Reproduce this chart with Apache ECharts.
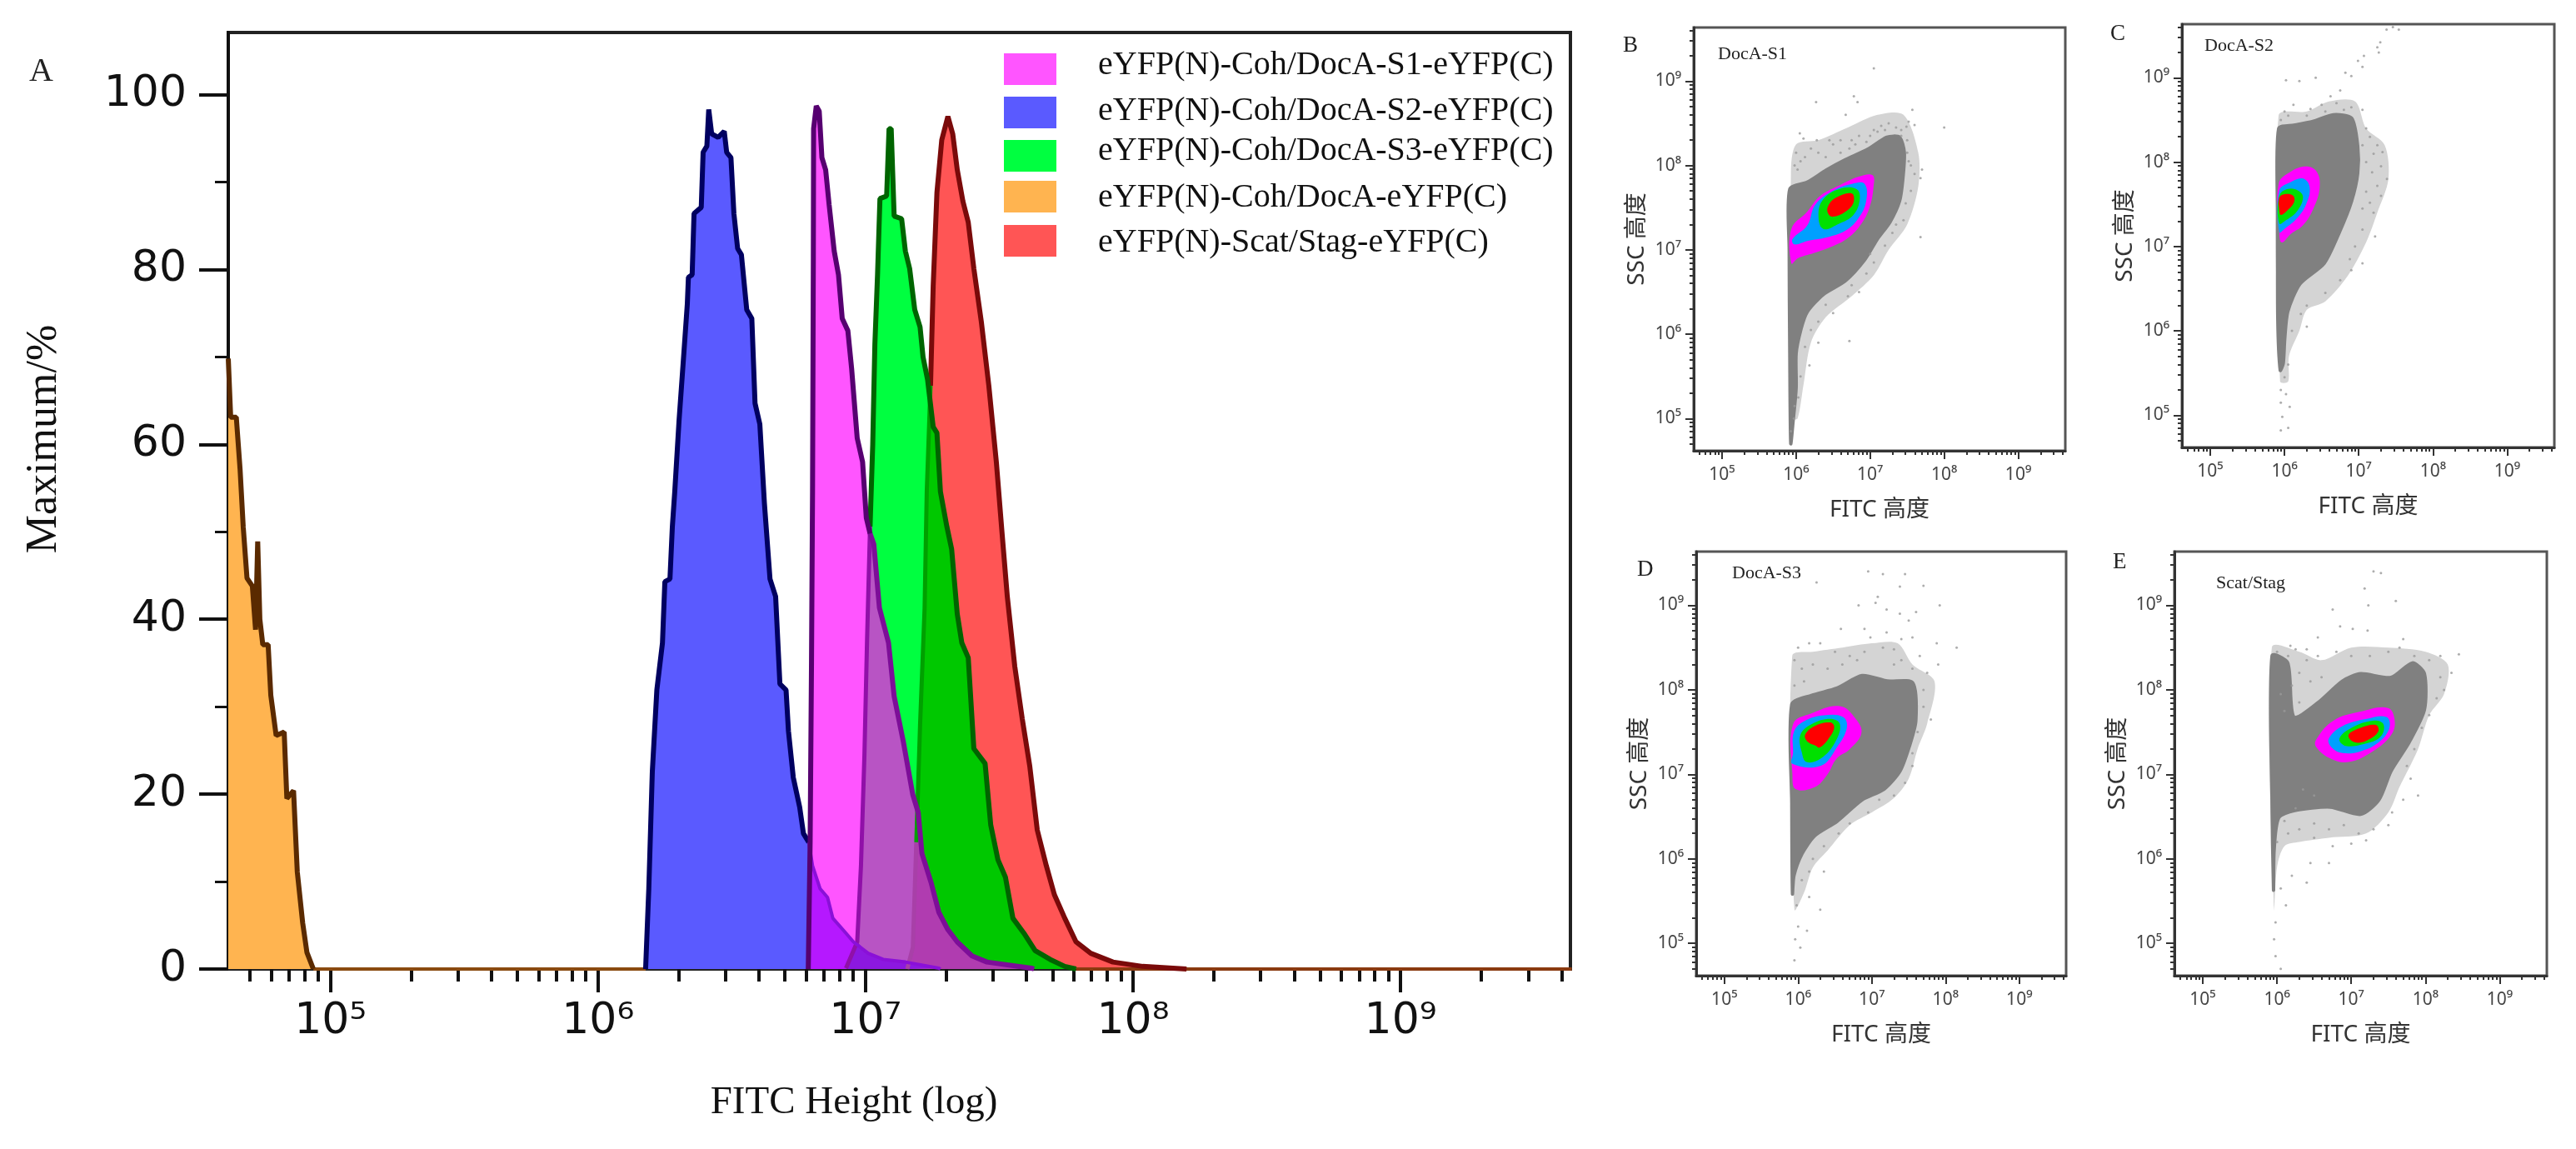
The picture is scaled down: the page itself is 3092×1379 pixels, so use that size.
<!DOCTYPE html>
<html>
<head>
<meta charset="utf-8">
<style>html,body{margin:0;padding:0;background:#fff}#main{width:3092px;height:1379px}</style>
<script src="https://cdn.jsdelivr.net/npm/echarts@6/dist/echarts.min.js"></script>
</head>
<body>
<div id="main"></div>
<script>
// x values of all curves and outlines are kept as log10 of the fluorescence, converted when the series are built
var legendNames = ['eYFP(N)-Coh/DocA-S1-eYFP(C)','eYFP(N)-Coh/DocA-S2-eYFP(C)','eYFP(N)-Coh/DocA-S3-eYFP(C)','eYFP(N)-Coh/DocA-eYFP(C)','eYFP(N)-Scat/Stag-eYFP(C)'];
var decadeValues = [1e5,1e6,1e7,1e8,1e9];
var decadeLabels = ['10⁵','10⁶','10⁷','10⁸','10⁹'];
var minorFactors = [2,3,4,5,6,7,8,9];
var percentMajor = [0,20,40,60,80,100];
var percentMinor = [10,30,50,70,90];

// panel A histograms [log10 FITC, % of max]
var curveS1 = [[6.786,0],[6.793,14.5],[6.798,34.6],[6.802,54.6],[6.805,81.4],[6.806,96.1],[6.816,98.7],[6.827,98.1],[6.837,92.8],[6.851,91.4],[6.864,87.4],[6.883,82.1],[6.899,79.4],[6.913,74.4],[6.934,73],[6.948,68.7],[6.969,60.7],[6.989,58],[7.003,51.6],[7.017,49.8],[7.031,48.6],[7.052,41.3],[7.086,37.3],[7.107,31.2],[7.142,25.9],[7.177,19.9],[7.197,17.9],[7.211,13.2],[7.246,9.8],[7.274,6.5],[7.308,4.5],[7.343,3.1],[7.398,1.5],[7.454,0.8],[7.62,0.1],[7.63,0]];
var curveS2 = [[6.178,0],[6.19,9.2],[6.203,22.5],[6.22,31.9],[6.241,37.3],[6.25,44.3],[6.269,44.6],[6.278,50.6],[6.287,54.6],[6.303,62.7],[6.32,70],[6.334,76.1],[6.338,79.1],[6.352,79.4],[6.359,86.4],[6.386,87.1],[6.393,93.4],[6.407,94.1],[6.414,98.3],[6.425,95.5],[6.449,95.1],[6.472,95.8],[6.481,93.4],[6.497,92.8],[6.508,86.4],[6.522,82.4],[6.536,81.7],[6.556,75.4],[6.575,74.4],[6.587,64.7],[6.605,62.3],[6.622,53.3],[6.643,44.6],[6.664,42.6],[6.68,32.6],[6.703,31.9],[6.712,27.2],[6.73,21.9],[6.754,18.5],[6.768,15.5],[6.788,14.5],[6.802,11.8],[6.83,9.2],[6.858,8.2],[6.878,5.8],[6.927,4.1],[6.955,3.1],[7.01,1.8],[7.066,1.1],[7.149,0.8],[7.274,0.1],[7.28,0]];
var curveS3 = [[6.927,0.1],[6.969,3.1],[6.983,11.8],[6.996,24.5],[7.006,37.9],[7.017,50.6],[7.027,60],[7.035,71.4],[7.045,79.4],[7.054,88.1],[7.079,88.4],[7.088,96.1],[7.096,96.1],[7.107,86.1],[7.135,85.8],[7.149,82.1],[7.165,80.1],[7.184,75.4],[7.204,73.4],[7.215,70],[7.232,67.4],[7.253,62],[7.267,61.3],[7.28,54.6],[7.304,50.6],[7.322,48],[7.343,40.6],[7.36,37.3],[7.384,35.6],[7.405,25.2],[7.447,23.5],[7.468,16.5],[7.495,12.5],[7.523,10.5],[7.551,5.8],[7.592,4.1],[7.634,2.1],[7.69,1.1],[7.745,0.3],[7.787,0]];
var curveControl = [[4.618,69.8],[4.627,63.1],[4.648,63.1],[4.662,57.2],[4.674,50.5],[4.688,44.7],[4.708,43.8],[4.72,38.8],[4.728,48.9],[4.736,40],[4.747,37.1],[4.767,37.1],[4.777,31.3],[4.797,26.7],[4.827,27.1],[4.837,19.5],[4.862,20.4],[4.876,11.1],[4.896,5.3],[4.912,1.9],[4.936,0]];
var curveScat = [[7.156,0],[7.177,2.5],[7.19,14.5],[7.204,27.9],[7.221,41.3],[7.229,54.6],[7.243,66.7],[7.253,78.1],[7.267,88.8],[7.285,94.8],[7.308,97.5],[7.326,95.5],[7.343,91.4],[7.364,87.8],[7.384,85.4],[7.405,80.1],[7.433,74],[7.461,66.7],[7.489,58],[7.51,50],[7.53,42.6],[7.558,34.6],[7.586,28.6],[7.614,23.2],[7.642,15.9],[7.676,11.8],[7.706,8.5],[7.745,5.8],[7.787,3.1],[7.842,1.8],[7.925,0.8],[8.036,0.3],[8.2,0]];
// overlaps between the histograms, they have their own tint in the figure
var overlapS1S2 = [[6.786,0],[6.793,14.5],[6.802,11.8],[6.83,9.2],[6.858,8.2],[6.878,5.8],[6.927,4.1],[6.955,3.1],[7.01,1.8],[7.066,1.1],[7.149,0.8],[7.274,0.1],[7.28,0]];
var overlapS1S3 = [[6.927,0],[6.969,3.1],[6.983,11.8],[6.996,24.5],[7.006,37.9],[7.017,49.8],[7.031,48.6],[7.052,41.3],[7.086,37.3],[7.107,31.2],[7.142,25.9],[7.177,19.9],[7.197,17.9],[7.211,13.2],[7.246,9.8],[7.274,6.5],[7.308,4.5],[7.343,3.1],[7.398,1.5],[7.454,0.8],[7.62,0.1],[7.63,0]];
var overlapS3Scat = [[7.156,0],[7.177,2.5],[7.19,14.5],[7.204,27.9],[7.221,41.3],[7.229,54.6],[7.243,64.5],[7.253,62],[7.267,61.3],[7.28,54.6],[7.304,50.6],[7.322,48],[7.343,40.6],[7.36,37.3],[7.384,35.6],[7.405,25.2],[7.447,23.5],[7.468,16.5],[7.495,12.5],[7.523,10.5],[7.551,5.8],[7.592,4.1],[7.634,2.1],[7.69,1.1],[7.745,0.3],[7.787,0]];
var overlapTriple = [[7.156,0],[7.177,2.5],[7.19,14.5],[7.195,18.2],[7.197,17.9],[7.211,13.2],[7.246,9.8],[7.274,6.5],[7.308,4.5],[7.343,3.1],[7.398,1.5],[7.454,0.8],[7.62,0.1],[7.63,0]];
var overlapQuad = [[6.927,0],[6.969,3.1],[7.01,1.8],[7.066,1.1],[7.149,0.8],[7.274,0.1],[7.28,0]];
var baselineLow = [[4.936,0],[6.178,0]];
var baselineHigh = [[7.787,0],[9.64,0]];

// panels B-E density levels, outlines read as [log10 FITC, log10 SSC]
var fringeB = [[5.93,7.9],[6.0,8.25],[6.3,8.3],[6.7,8.45],[7.1,8.6],[7.45,8.6],[7.65,8.15],[7.65,7.75],[7.5,7.3],[7.25,7.0],[7.05,6.7],[6.75,6.45],[6.4,6.2],[6.2,5.9],[6.1,5.4],[6.02,5.0],[5.95,5.0]];
var grayB = [[5.915,7.72],[6.151,7.802],[6.409,7.946],[6.667,8.069],[6.968,8.192],[7.226,8.335],[7.397,8.335],[7.462,8.151],[7.44,7.823],[7.397,7.576],[7.269,7.33],[7.097,7.125],[6.925,6.879],[6.667,6.633],[6.366,6.469],[6.151,6.264],[6.066,6.058],[6.001,5.771],[6.001,5.361],[5.958,4.951],[5.928,4.705],[5.915,5.771],[5.907,7.002]];
var magentaB = [[5.937,7.248],[6.151,7.453],[6.323,7.638],[6.581,7.761],[6.839,7.864],[7.032,7.884],[7.045,7.741],[6.989,7.494],[6.882,7.31],[6.71,7.146],[6.495,7.043],[6.237,6.961],[6.023,6.9],[5.937,6.838]];
var blueB = [[5.95,7.125],[6.151,7.289],[6.259,7.535],[6.495,7.7],[6.753,7.782],[6.925,7.782],[6.946,7.576],[6.839,7.371],[6.667,7.228],[6.409,7.146],[6.151,7.105],[5.98,7.064]];
var greenB = [[6.302,7.412],[6.366,7.597],[6.581,7.72],[6.817,7.72],[6.86,7.597],[6.774,7.412],[6.581,7.31],[6.366,7.248]];
var redB = [[6.431,7.515],[6.538,7.617],[6.753,7.667],[6.774,7.556],[6.667,7.453],[6.495,7.392],[6.431,7.433]];
var fringeC = [[5.92,8.55],[6.3,8.6],[6.6,8.72],[6.95,8.72],[7.1,8.4],[7.35,8.2],[7.4,7.8],[7.25,7.4],[7.1,7.05],[6.85,6.65],[6.55,6.35],[6.3,6.25],[6.2,6.0],[6.06,5.7],[6.05,5.4],[5.94,5.4]];
var grayC = [[5.921,8.398],[6.126,8.439],[6.372,8.48],[6.658,8.562],[6.904,8.521],[6.986,8.193],[6.986,7.866],[6.904,7.538],[6.74,7.17],[6.535,6.801],[6.208,6.556],[6.044,6.228],[6.003,5.901],[5.983,5.614],[5.942,5.532],[5.909,6.146],[5.909,7.375]];
var magentaC = [[5.921,7.743],[6.085,7.886],[6.29,7.948],[6.433,7.886],[6.474,7.702],[6.392,7.456],[6.249,7.252],[6.085,7.149],[5.962,7.047],[5.929,7.17]];
var blueC = [[5.929,7.661],[6.085,7.764],[6.249,7.805],[6.339,7.702],[6.29,7.497],[6.167,7.334],[6.003,7.211],[5.929,7.17]];
var greenC = [[5.929,7.6],[6.044,7.682],[6.187,7.661],[6.249,7.579],[6.167,7.416],[6.024,7.313],[5.929,7.272]];
var redC = [[5.929,7.579],[6.003,7.62],[6.118,7.6],[6.126,7.518],[6.024,7.416],[5.95,7.375],[5.929,7.436]];
var fringeD = [[5.92,8.4],[6.2,8.45],[6.6,8.5],[7.0,8.55],[7.35,8.55],[7.55,8.3],[7.85,8.1],[7.75,7.6],[7.62,7.3],[7.5,6.95],[7.3,6.72],[7.0,6.55],[6.7,6.4],[6.4,6.1],[6.2,5.9],[6.08,5.6],[5.95,5.4]];
var grayD = [[5.914,7.827],[6.18,7.934],[6.524,8.019],[6.867,8.168],[7.21,8.104],[7.554,8.083],[7.597,7.635],[7.511,7.337],[7.382,7.038],[7.167,6.825],[6.867,6.697],[6.524,6.441],[6.223,6.271],[6.052,6.058],[5.944,5.802],[5.923,5.588],[5.914,6.655]];
var magentaD = [[5.931,7.593],[6.18,7.721],[6.567,7.806],[6.781,7.657],[6.858,7.486],[6.695,7.294],[6.524,7.188],[6.395,6.996],[6.223,6.847],[5.966,6.825],[5.923,6.996]];
var blueD = [[5.944,7.507],[6.094,7.635],[6.352,7.699],[6.609,7.678],[6.661,7.55],[6.524,7.316],[6.309,7.102],[5.923,7.124],[5.931,7.252]];
var greenD = [[6.03,7.465],[6.18,7.593],[6.438,7.657],[6.567,7.593],[6.502,7.38],[6.309,7.188],[6.116,7.145],[6.052,7.252]];
var redD = [[6.094,7.465],[6.223,7.571],[6.438,7.614],[6.489,7.55],[6.395,7.401],[6.288,7.316],[6.245,7.337],[6.137,7.38]];
var fringeE = [[5.93,8.5],[6.3,8.45],[6.6,8.35],[7.0,8.5],[7.5,8.5],[8.0,8.45],[8.3,8.3],[8.25,7.95],[8.05,7.7],[7.9,7.3],[7.65,6.85],[7.5,6.55],[7.2,6.3],[6.7,6.25],[6.3,6.2],[6.1,6.15],[6.0,5.9],[5.96,5.4]];
var grayE = [[5.933,8.403],[6.145,8.318],[6.227,7.678],[6.554,7.849],[6.881,8.104],[7.127,8.19],[7.536,8.147],[7.822,8.318],[7.986,8.19],[7.986,7.763],[7.781,7.38],[7.536,7.038],[7.372,6.697],[7.127,6.527],[6.718,6.612],[6.227,6.569],[6.022,6.484],[5.961,6.1],[5.953,5.631],[5.933,6.655]];
var magentaE = [[6.521,7.401],[6.759,7.635],[7.127,7.742],[7.495,7.785],[7.585,7.635],[7.536,7.465],[7.29,7.273],[6.963,7.145],[6.718,7.188],[6.534,7.316]];
var blueE = [[6.697,7.422],[6.881,7.571],[7.209,7.657],[7.474,7.678],[7.515,7.55],[7.372,7.38],[7.127,7.273],[6.881,7.252],[6.738,7.316]];
var greenE = [[6.84,7.422],[7.004,7.55],[7.29,7.635],[7.434,7.593],[7.393,7.444],[7.168,7.358],[6.922,7.337]];
var redE = [[6.963,7.465],[7.127,7.55],[7.331,7.584],[7.364,7.507],[7.209,7.401],[7.045,7.38]];

// stray events outside the solid part of each cloud
var dotsB = [[7.05,9.15],[6.78,8.82],[6.83,8.75],[6.27,8.75],[6.67,8.6],[7.57,8.66],[7.52,8.52],[7.49,8.46],[7.42,8.42],[7.6,8.48],[8.0,8.45],[6.05,8.38],[6.1,8.32],[6.0,8.15],[5.98,8.0],[6.02,7.95],[6.06,8.05],[6.2,8.2],[6.12,8.1],[6.3,8.15],[6.28,8.3],[6.4,8.1],[6.45,8.3],[6.5,8.25],[6.6,8.3],[6.6,8.15],[6.75,8.3],[6.72,8.2],[6.85,8.35],[6.8,8.25],[6.95,8.28],[7.05,8.42],[7.0,8.35],[7.15,8.47],[7.1,8.4],[7.25,8.5],[7.2,8.42],[7.35,8.45],[7.42,8.35],[7.5,8.3],[7.5,8.15],[7.52,8.05],[7.55,8.0],[7.6,7.9],[7.7,7.95],[7.68,7.85],[7.55,7.7],[7.48,7.55],[7.45,7.35],[7.3,7.2],[7.35,7.3],[7.68,7.15],[7.2,7.05],[7.05,6.85],[7.0,6.95],[6.95,6.72],[6.85,6.5],[6.75,6.58],[6.7,6.45],[6.5,6.25],[6.4,6.35],[6.3,6.15],[6.2,6.05],[6.12,5.85],[6.3,5.9],[6.06,5.5],[6.03,5.25],[5.98,5.15],[5.97,5.0],[5.93,4.85],[6.18,5.63],[6.72,5.92]];
var dotsC = [[7.375,9.57],[7.46,9.6],[7.54,9.57],[7.29,9.42],[7.25,9.36],[7.27,9.3],[7.07,9.26],[6.99,9.2],[7.05,9.13],[6.82,9.06],[6.9,9.02],[6.42,9.0],[6.02,8.97],[6.2,8.96],[6.75,8.85],[6.62,8.78],[6.7,8.7],[6.5,8.68],[6.35,8.63],[6.12,8.68],[6.0,8.6],[5.95,8.5],[6.05,8.55],[6.3,8.55],[6.55,8.6],[6.8,8.62],[6.9,8.65],[7.05,8.62],[7.1,8.4],[7.15,8.3],[7.05,8.2],[7.25,8.2],[7.2,8.1],[7.32,8.12],[7.1,8.0],[7.3,7.95],[7.18,7.88],[7.38,7.8],[7.25,7.72],[7.1,7.65],[7.3,7.6],[7.15,7.52],[7.05,7.45],[7.2,7.4],[7.22,7.12],[7.05,7.2],[6.95,7.0],[6.88,6.85],[7.05,6.8],[6.9,6.72],[6.75,6.6],[6.55,6.45],[6.3,6.3],[6.22,6.2],[6.3,6.05],[6.1,6.0],[6.05,5.6],[6.0,5.45],[5.95,5.3],[6.02,5.25],[5.95,5.15],[6.07,5.1],[6.05,4.85],[5.95,4.82],[5.97,4.98]];
var dotsD = [[7.92,9.0],[7.7,9.23],[6.95,9.4],[7.15,9.37],[7.45,9.37],[7.38,9.22],[6.25,9.27],[7.08,9.1],[7.05,9.03],[6.82,9.0],[7.2,8.95],[7.38,8.9],[7.5,8.82],[7.6,8.92],[6.58,8.72],[6.9,8.72],[7.2,8.68],[6.98,8.62],[7.4,8.6],[7.55,8.62],[7.88,8.55],[8.15,8.5],[6.0,8.5],[6.15,8.55],[6.3,8.55],[6.5,8.45],[6.7,8.4],[6.9,8.45],[7.15,8.5],[7.3,8.48],[7.4,8.35],[7.65,8.4],[7.9,8.3],[5.95,8.35],[6.05,8.25],[6.2,8.3],[6.4,8.25],[6.6,8.3],[6.8,8.35],[7.3,8.3],[7.55,8.25],[7.75,8.2],[5.95,8.05],[6.08,8.1],[7.7,8.0],[7.7,7.8],[7.8,7.65],[7.62,7.5],[7.55,7.25],[7.55,7.1],[7.45,6.9],[7.3,6.75],[7.1,6.7],[6.95,6.55],[6.7,6.42],[6.55,6.3],[6.35,6.15],[6.2,6.0],[6.35,5.85],[6.15,5.85],[6.05,5.75],[6.15,5.55],[5.98,5.45],[6.3,5.4],[6.0,5.2],[6.12,5.15],[5.96,5.05],[6.03,4.95],[5.95,4.8]];
var dotsE = [[7.3,9.4],[7.4,9.38],[7.18,9.2],[7.6,9.05],[7.23,9.0],[6.75,8.95],[6.85,8.75],[7.02,8.72],[7.22,8.7],[6.55,8.62],[7.7,8.6],[6.4,8.48],[6.18,8.52],[6.25,8.48],[6.0,8.45],[6.15,8.4],[6.4,8.35],[6.55,8.4],[6.8,8.45],[7.0,8.4],[7.25,8.4],[7.5,8.45],[7.65,8.5],[7.85,8.4],[8.05,8.35],[8.2,8.4],[8.45,8.42],[8.35,8.2],[8.2,8.15],[8.25,8.0],[8.15,7.9],[8.05,7.7],[7.95,7.55],[7.85,7.3],[7.75,7.1],[7.8,6.95],[7.9,6.75],[7.7,6.7],[7.55,6.55],[7.5,6.4],[7.3,6.35],[7.1,6.3],[6.9,6.4],[6.7,6.35],[6.5,6.42],[6.3,6.35],[6.15,6.3],[6.1,6.45],[6.0,6.2],[6.5,6.25],[6.75,6.15],[7.0,6.18],[7.2,6.22],[6.45,5.95],[6.7,5.95],[6.2,5.8],[6.4,5.72],[6.05,5.65],[6.12,5.45],[5.98,5.25],[5.96,5.05],[5.98,4.85],[6.05,4.7],[5.95,4.6],[6.3,7.85],[6.2,8.05],[6.45,8.1],[6.3,8.2],[6.6,8.15],[6.1,7.75],[6.05,7.95],[6.35,6.82],[6.25,6.6],[6.5,6.75]];

var panelLetters = ['A','B','C','D','E'];
var panelTags = ['DocA-S1','DocA-S2','DocA-S3','Scat/Stag'];
var levelColors = ['#808080','#FF00FF','#00A0FF','#00E000','#FF0000'];

var serif = '"Liberation Serif"';
var sans = '"Noto Sans","Noto Sans CJK SC"';
var minExp = 4.618, maxExp = 9.635;
var minorValues = [1e4,1e5,1e6,1e7,1e8,1e9].reduce(function(all,d){
	return all.concat(minorFactors.map(function(f){return f*d}))
},[]).filter(function(v){return v>Math.pow(10,minExp) && v<Math.pow(10,maxExp)});

function toX(pts){
	return pts.map(function(p){return [Math.pow(10,p[0]),p[1]]})
}
function toXY(pts){
	return pts.map(function(p){return [Math.pow(10,p[0]),Math.pow(10,p[1])]})
}
function between(pts,lo,hi){
	return pts.filter(function(p){return p[0]>=lo && p[0]<=hi})
}
function decadeLabel(v){
	var i = decadeValues.indexOf(Math.round(v));
	return i<0 ? '' : decadeLabels[i];
}

var grids=[], xAxes=[], yAxes=[], series=[];

// panel A
grids.push({left:274,top:39,width:1611,height:1124,show:true,borderColor:'#222',borderWidth:4,backgroundColor:'#fff'});
xAxes.push({type:'log',gridIndex:0,min:Math.pow(10,minExp),max:Math.pow(10,maxExp),
	axisLine:{onZero:false,lineStyle:{color:'#222',width:4}},
	axisTick:{customValues:decadeValues,length:28,inside:false,lineStyle:{color:'#111',width:4}},
	axisLabel:{customValues:decadeValues,formatter:decadeLabel,margin:37,fontFamily:'"DejaVu Sans"',fontSize:52,color:'#111'},
	splitLine:{show:false},
	name:'FITC Height (log)',nameLocation:'middle',nameGap:137,
	nameTextStyle:{fontFamily:serif,fontSize:47,color:'#111',padding:[0,109,0,0]}});
xAxes.push({type:'log',gridIndex:0,min:Math.pow(10,minExp),max:Math.pow(10,maxExp),position:'bottom',
	axisLine:{show:false,onZero:false},
	axisTick:{customValues:minorValues,length:15,lineStyle:{color:'#111',width:4}},
	axisLabel:{show:false},splitLine:{show:false}});
yAxes.push({type:'value',gridIndex:0,min:0,max:107.1,
	axisLine:{show:true,lineStyle:{color:'#111',width:4}},
	axisTick:{show:true,customValues:percentMajor,length:35,lineStyle:{color:'#111',width:4}},
	axisLabel:{customValues:percentMajor,margin:50,fontFamily:'"DejaVu Sans"',fontSize:52,color:'#111'},
	splitLine:{show:false},
	name:'Maximum/%',nameLocation:'middle',nameGap:195,
	nameTextStyle:{fontFamily:serif,fontSize:52,color:'#111',padding:[0,0,0,148]}});
yAxes.push({type:'value',gridIndex:0,min:0,max:107.1,position:'left',
	axisLine:{show:false},
	axisTick:{show:true,customValues:percentMinor,length:16,lineStyle:{color:'#111',width:3}},
	axisLabel:{show:false},splitLine:{show:false}});

function fill(name,pts,color){
	series.push({type:'line',name:name,xAxisIndex:0,yAxisIndex:0,data:toX(pts),showSymbol:false,symbol:'none',
		lineStyle:{width:0},itemStyle:{color:color},areaStyle:{color:color,opacity:1},animation:false,silent:true});
}
function edge(pts,color,width){
	series.push({type:'line',xAxisIndex:0,yAxisIndex:0,data:toX(pts),showSymbol:false,symbol:'none',
		lineStyle:{width:width||6,color:color},itemStyle:{color:color},animation:false,silent:true});
}
fill(legendNames[3],curveControl,'#FFB450');
fill(legendNames[4],curveScat,'#FF5555');
fill(legendNames[2],curveS3,'#00FF40');
fill(legendNames[1],curveS2,'#5A5AFF');
fill(legendNames[0],curveS1,'#FF55FF');
fill('S1+S2',overlapS1S2,'#B518FF');
fill('S1+S3',overlapS1S3,'#B854C4');
fill('S3+Scat',overlapS3Scat,'#00C800');
fill('S1+S3+Scat',overlapTriple,'#B03CB0');
fill('S1+S2+S3',overlapQuad,'#8C18E0');
edge(baselineLow,'#8A4A10',4);
edge(baselineHigh,'#8A3A10',4);
edge(curveControl,'#5A2A00');
edge(between(curveScat,7.156,7.195),'#A840A8',5);
edge(between(curveScat,7.19,7.243),'#00A000',5);
edge(between(curveScat,7.243,8.3),'#7A0A0A');
edge(between(curveS3,6.927,7.017),'#9010A8',5);
edge(between(curveS3,7.017,8),'#006400');
edge(between(curveS2,6.1,6.79),'#000060');
edge(between(curveS2,6.788,7.3),'#8A10D8',4);
edge(between(curveS1,7.017,7.7),'#7D0E98');
edge(between(curveS1,6.7,7.017),'#560070');

// panels B-E
var panelBoxes = [
	{left:2033,top:33,width:446,height:508},
	{left:2619,top:29,width:447,height:508},
	{left:2036,top:662,width:444,height:509},
	{left:2610,top:662,width:447,height:509}
];
var panelFringes = [fringeB,fringeC,fringeD,fringeE];
var panelLevels = [
	[grayB,magentaB,blueB,greenB,redB],
	[grayC,magentaC,blueC,greenC,redC],
	[grayD,magentaD,blueD,greenD,redD],
	[grayE,magentaE,blueE,greenE,redE]
];
var panelDots = [dotsB,dotsC,dotsD,dotsE];

function addOutline(pts,xi,yi,color,smooth,strokeWidth){
	series.push({type:'custom',xAxisIndex:xi,yAxisIndex:yi,data:pts,clip:true,animation:false,silent:true,
		renderItem:function(params,api){
			if(params.dataIndex!==0) return;
			return {type:'polygon',shape:{points:pts.map(function(p){return api.coord(p)}),smooth:smooth},
				style:strokeWidth ? {fill:color,stroke:color,lineWidth:strokeWidth} : {fill:color}};
		}});
}

function addPanel(k){
	var g = grids.length, xi = xAxes.length, yi = yAxes.length, box = panelBoxes[k];
	grids.push({left:box.left,top:box.top,width:box.width,height:box.height,show:true,borderColor:'#555',borderWidth:3});
	var lo = Math.pow(10,minExp), hi = Math.pow(10,maxExp);
	var title = {fontFamily:sans,fontSize:28,color:'#333'};
	var label = {margin:19,fontFamily:sans,fontSize:21,color:'#444'};
	xAxes.push({type:'log',gridIndex:g,min:lo,max:hi,
		axisLine:{onZero:false,lineStyle:{color:'#333',width:3}},
		axisTick:{customValues:decadeValues,length:10,lineStyle:{color:'#333',width:2}},
		axisLabel:Object.assign({customValues:decadeValues,formatter:decadeLabel},label),
		splitLine:{show:false},
		name:'FITC 高度',nameLocation:'middle',nameGap:57,nameTextStyle:title});
	xAxes.push({type:'log',gridIndex:g,min:lo,max:hi,position:'bottom',
		axisLine:{show:false,onZero:false},
		axisTick:{customValues:minorValues,length:5,lineStyle:{color:'#333',width:2}},
		axisLabel:{show:false},splitLine:{show:false}});
	yAxes.push({type:'log',gridIndex:g,min:lo,max:hi,
		axisLine:{onZero:false,lineStyle:{color:'#333',width:3}},
		axisTick:{customValues:decadeValues,length:10,lineStyle:{color:'#333',width:2}},
		axisLabel:Object.assign({customValues:decadeValues,formatter:decadeLabel},{margin:15,fontFamily:sans,fontSize:21,color:'#444'}),
		splitLine:{show:false},
		name:'SSC 高度',nameLocation:'middle',nameGap:54,nameTextStyle:title});
	yAxes.push({type:'log',gridIndex:g,min:lo,max:hi,position:'left',
		axisLine:{show:false,onZero:false},
		axisTick:{customValues:minorValues,length:5,lineStyle:{color:'#333',width:2}},
		axisLabel:{show:false},splitLine:{show:false}});
	addOutline(toXY(panelFringes[k]),xi,yi,'#d4d4d4',0.3);
	series.push({type:'scatter',xAxisIndex:xi,yAxisIndex:yi,data:toXY(panelDots[k]),symbolSize:3,
		itemStyle:{color:'#999'},animation:false,silent:true});
	panelLevels[k].forEach(function(level,n){
		addOutline(toXY(level),xi,yi,levelColors[n],n===0?0.25:0.4,n===0?4:0);
	});
}
for(var k=0;k<4;k++) addPanel(k);

// letters, small tags and the key of panel A
var keyTops = [64,116,168,217,270];
var keyHeights = [38,38,38,38,38];
var keyTextY = [78,133,181,237,291];
var keyColors = ['#FF55FF','#5A5AFF','#00FF40','#FFB450','#FF5555'];
var letterPos = [[35,86,40],[1948,55,27],[2533,41,27],[1965,684,27],[2536,675,27]];
var tagPos = [[2062,65],[2646,55],[2079,688],[2660,700]];
var graphics = [];
keyColors.forEach(function(c,i){
	graphics.push({type:'rect',shape:{x:1205,y:keyTops[i],width:63,height:keyHeights[i]},style:{fill:c},z:50});
	graphics.push({type:'text',x:1318,y:keyTextY[i],style:{text:legendNames[i],fontFamily:serif,fontSize:40,fill:'#111',verticalAlign:'middle'},z:50});
});
panelLetters.forEach(function(t,i){
	var p = letterPos[i];
	graphics.push({type:'text',x:p[0],y:p[1],style:{text:t,fontFamily:serif,fontSize:p[2],fill:'#222',verticalAlign:'middle'},z:50});
});
panelTags.forEach(function(t,i){
	var p = tagPos[i];
	graphics.push({type:'text',x:p[0],y:p[1],style:{text:t,fontFamily:serif,fontSize:22,fill:'#222',verticalAlign:'middle'},z:50});
});

var chart = echarts.init(document.getElementById('main'));
chart.setOption({
	animation:false,
	backgroundColor:'#fff',
	grid:grids,
	xAxis:xAxes,
	yAxis:yAxes,
	series:series,
	graphic:{elements:graphics}
});
</script>
</body>
</html>
